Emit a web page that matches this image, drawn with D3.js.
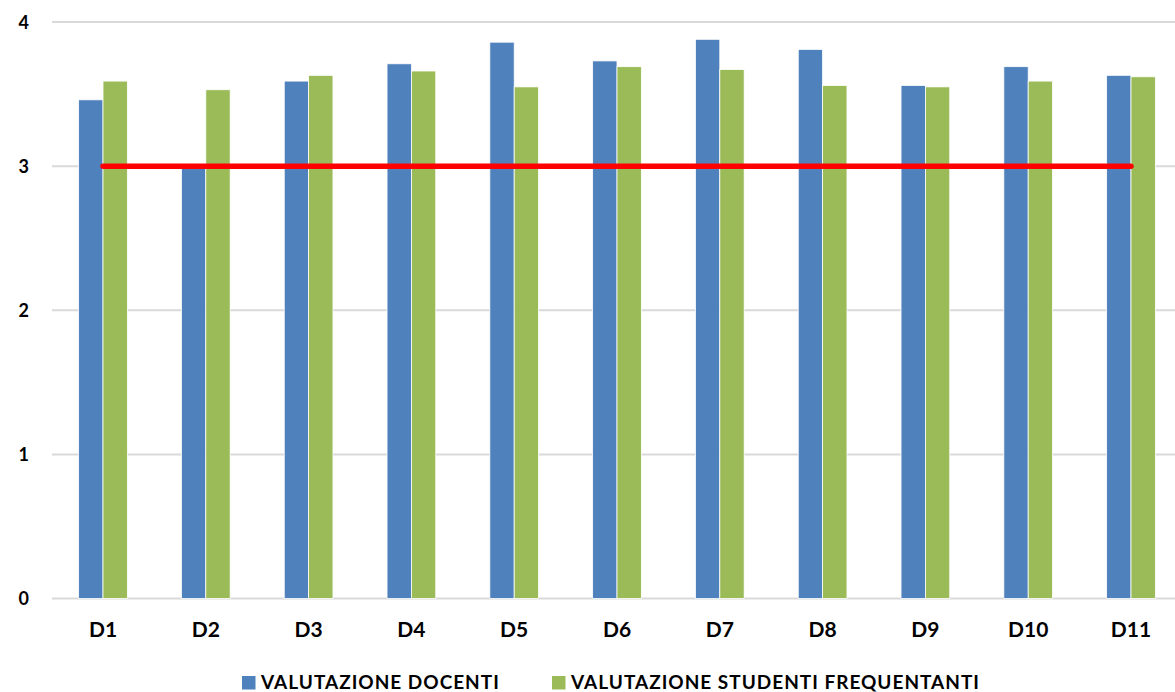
<!DOCTYPE html>
<html>
<head>
<meta charset="utf-8">
<script src="https://cdn.jsdelivr.net/npm/d3@7"></script>
<style>
  body { margin: 0; background: #fff; }
  text { font-family: Lato, "Open Sans", sans-serif; font-weight: bold; fill: #000; }
</style>
</head>
<body>
<svg id="canvas" width="1175" height="692"></svg>
<script>
let categories = ["D1", "D2", "D3", "D4", "D5", "D6", "D7", "D8", "D9", "D10", "D11"];
let docenti = [3.46, 3.0, 3.59, 3.71, 3.86, 3.73, 3.88, 3.81, 3.56, 3.69, 3.63];
let studenti = [3.59, 3.53, 3.63, 3.66, 3.55, 3.69, 3.67, 3.56, 3.55, 3.59, 3.62];
let soglia = [3, 3, 3, 3, 3, 3, 3, 3, 3, 3, 3];
let yTicks = [0, 1, 2, 3, 4];
let seriesNames = ["VALUTAZIONE DOCENTI", "VALUTAZIONE STUDENTI FREQUENTANTI"];

let colors = ["#4f81bd", "#9bbb59"];

let canvas = d3.select("#canvas");

let x = d3.scaleBand().domain(categories).range([51.6, 1182.4]);
let y = d3.scaleLinear().domain([0, 4]).range([598.5, 22]);

let barW = x.bandwidth() * 0.237;

// grid lines
canvas
  .append("g")
  .selectAll("line")
  .data(yTicks)
  .enter()
  .append("line")
  .attr("x1", 52)
  .attr("x2", 1175)
  .attr("y1", (d) => y(d))
  .attr("y2", (d) => y(d))
  .attr("stroke", "#d9d9d9")
  .attr("stroke-width", 2);

// y axis labels
let yAxis = canvas
  .append("g")
  .attr("transform", "translate(30,0)")
  .call(d3.axisLeft(y).tickValues(yTicks).tickSize(0).tickFormat(d3.format("d")));
yAxis.select(".domain").remove();
yAxis.selectAll("text").style("font-size", "18px").attr("dy", "0.35em").attr("x", -1);

// x axis labels
let xAxis = canvas
  .append("g")
  .attr("transform", "translate(0," + y(0) + ")")
  .call(d3.axisBottom(x).tickSize(0));
xAxis.select(".domain").remove();
xAxis.selectAll("text").style("font-size", "21px").attr("y", 38).attr("dy", 0);

// bars
let groups = canvas
  .append("g")
  .selectAll("g")
  .data(categories)
  .enter()
  .append("g")
  .attr("transform", (d) => "translate(" + (x(d) + x.bandwidth() / 2) + ",0)");

groups
  .append("rect")
  .attr("x", -barW)
  .attr("width", barW)
  .attr("y", (d, i) => y(docenti[i]))
  .attr("height", (d, i) => y(0) - y(docenti[i]))
  .attr("fill", colors[0])
  .attr("stroke", "#fff")
  .attr("stroke-width", 0.8);

groups
  .append("rect")
  .attr("x", 0)
  .attr("width", barW)
  .attr("y", (d, i) => y(studenti[i]))
  .attr("height", (d, i) => y(0) - y(studenti[i]))
  .attr("fill", colors[1])
  .attr("stroke", "#fff")
  .attr("stroke-width", 0.8);

// threshold line
let line = d3
  .line()
  .x((d, i) => x(categories[i]) + x.bandwidth() / 2)
  .y((d) => y(d));

canvas
  .append("path")
  .datum(soglia)
  .attr("d", line)
  .attr("fill", "none")
  .attr("stroke", "#ff0000")
  .attr("stroke-width", 5.5)
  .attr("stroke-linecap", "round");

// legend
let legendX = [242, 552];
let legend = canvas
  .append("g")
  .selectAll("g")
  .data(seriesNames)
  .enter()
  .append("g")
  .attr("transform", (d, i) => "translate(" + legendX[i] + ",676)");

legend
  .append("rect")
  .attr("width", 13.5)
  .attr("height", 13.5)
  .attr("fill", (d, i) => colors[i]);

legend
  .append("text")
  .attr("x", 19)
  .attr("y", 13.3)
  .style("font-size", "19px")
  .style("letter-spacing", "1px")
  .text((d) => d);
</script>
</body>
</html>
